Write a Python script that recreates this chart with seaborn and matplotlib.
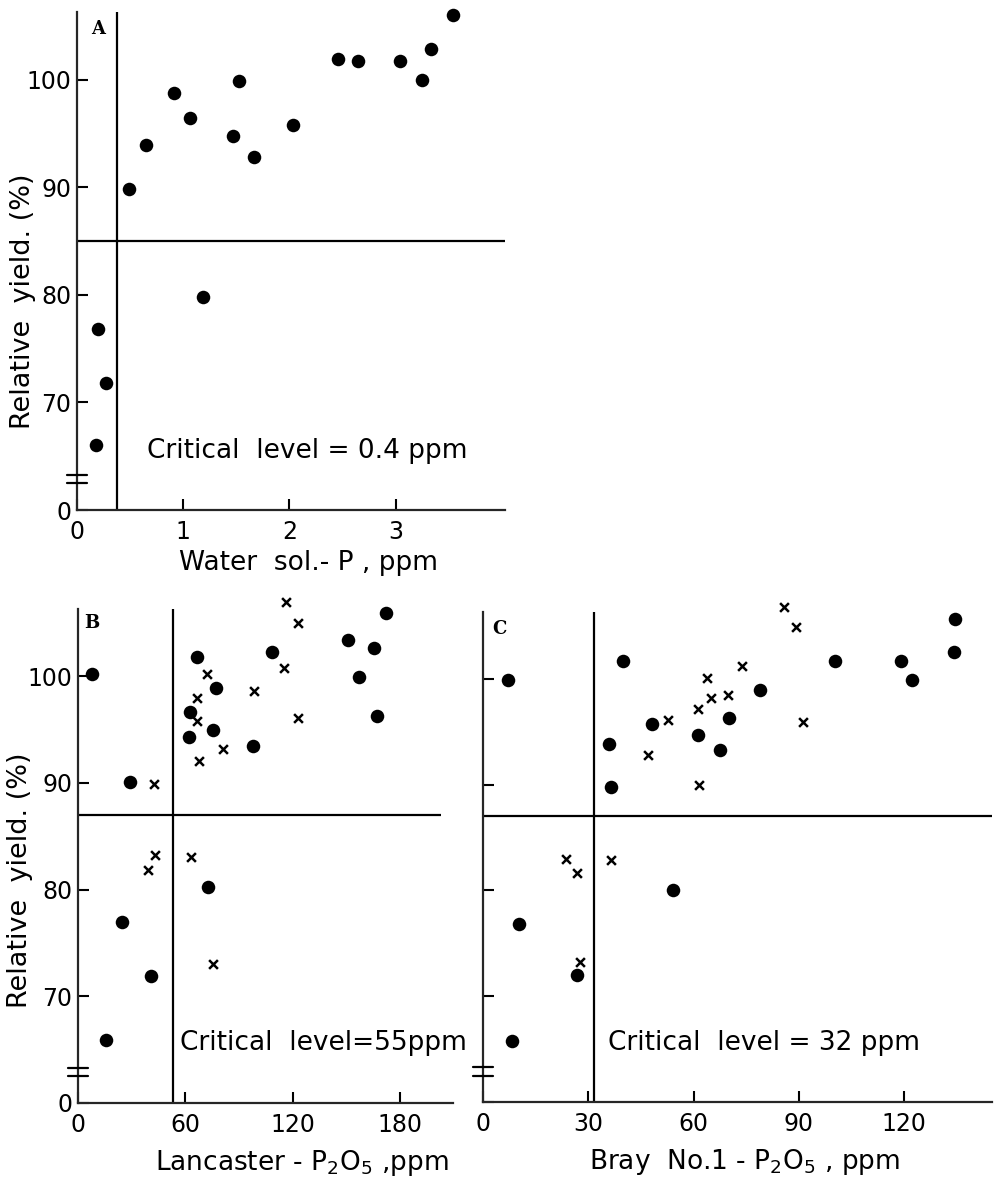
import matplotlib
matplotlib.use("Agg")
import matplotlib.pyplot as plt
import matplotlib.transforms as mtrans
import pandas as pd
import seaborn as sns

# ---------------- data ----------------
# Panel A: water soluble P (ppm) vs relative yield (%)
a_x = [0.49, 0.65, 0.91, 1.06, 1.47, 1.53, 1.67, 2.03, 2.46, 2.65, 3.04, 3.25, 3.33, 3.54,
       1.19, 0.20, 0.27, 0.18]
a_y = [89.8, 93.9, 98.8, 96.4, 94.8, 99.9, 92.8, 95.8, 101.9, 101.7, 101.7, 100.0, 102.9, 106.0,
       79.8, 76.8, 71.8, 66.0]

# Panel B: Lancaster P2O5 (ppm)
b_dot_x = [8.0, 29.1, 66.5, 77.1, 62.6, 75.3, 61.8, 97.9, 108.2, 151.0, 172.1, 165.4, 157.0, 167.0,
           72.5, 24.7, 40.8, 15.6]
b_dot_y = [100.2, 90.1, 101.8, 98.9, 96.6, 95.0, 94.3, 93.5, 102.3, 103.4, 105.9, 102.6, 99.9, 96.3,
           80.2, 77.0, 71.9, 65.9]
b_x_x = [116.0, 122.7, 71.9, 115.3, 66.6, 98.2, 66.6, 122.7, 81.2, 67.4, 42.5, 43.2, 39.3, 63.3, 75.6]
b_x_y = [107.0, 105.0, 100.2, 100.8, 98.0, 98.6, 95.8, 96.1, 93.2, 92.1, 89.9, 83.2, 81.8, 83.1, 73.0]

# Panel C: Bray No.1 P2O5 (ppm)
c_dot_x = [7.2, 39.9, 35.9, 36.5, 48.1, 61.3, 70.1, 67.5, 79.0, 100.4, 119.0, 122.2, 134.5, 134.2,
           54.1, 10.3, 26.9, 8.2]
c_dot_y = [99.9, 101.7, 93.8, 89.8, 95.7, 94.7, 96.3, 93.3, 98.9, 101.7, 101.7, 99.9, 105.6, 102.5,
           80.0, 76.8, 72.0, 65.8]
c_x_x = [85.8, 89.1, 73.9, 63.8, 65.0, 69.7, 61.3, 52.6, 91.3, 46.9, 61.5, 23.6, 26.7, 36.6, 27.6]
c_x_y = [106.8, 104.9, 101.2, 100.1, 98.2, 98.5, 97.1, 96.1, 95.9, 92.8, 90.0, 83.0, 81.6, 82.9, 73.2]

# critical levels (x) and yield thresholds (y)
crit_x = {"A": 0.38, "B": 53, "C": 31.5}
crit_y = {"A": 85, "B": 87, "C": 87}
crit_text = {"A": "Critical  level = 0.4 ppm", "B": "Critical  level=55ppm",
             "C": "Critical  level = 32 ppm"}

yticks = [60, 70, 80, 90, 100]
ytick_labels = ["0", "70", "80", "90", "100"]
xticks_A = [0, 1, 2, 3]
xticks_B = [0, 60, 120, 180]
xticks_C = [0, 30, 60, 90, 120]
xlabels = {"A": "Water  sol.- P , ppm",
           "B": "Lancaster - P$_2$O$_5$ ,ppm",
           "C": "Bray  No.1 - P$_2$O$_5$ , ppm"}
ylabel = "Relative  yield. (%)"

# ---------------- style ----------------
sns.set_style("ticks")
plt.rcParams["font.family"] = ["DejaVu Sans"]
plt.rcParams["mathtext.default"] = "regular"
plt.rcParams["axes.linewidth"] = 1.6
plt.rcParams["text.color"] = "black"
plt.rcParams["axes.labelcolor"] = "black"
plt.rcParams["xtick.color"] = "black"
plt.rcParams["ytick.color"] = "black"

W, H = 1005, 1180
fig = plt.figure(figsize=(W / 100, H / 100), dpi=100)


def add_axes(l, r, b, t):
    return fig.add_axes([l / W, 1 - b / H, (r - l) / W, (b - t) / H])


axA = add_axes(77, 505, 510, 12)
axB = add_axes(78, 453, 1103, 609)
axC = add_axes(483, 992, 1102, 612)

DOT_S = 95
X_S = 40

dfA = pd.DataFrame({"x": a_x, "y": a_y})
sns.scatterplot(data=dfA, x="x", y="y", ax=axA, color="black", marker="o", s=DOT_S,
                linewidth=0, zorder=3, clip_on=False)

dfB1 = pd.DataFrame({"x": b_dot_x, "y": b_dot_y})
dfB2 = pd.DataFrame({"x": b_x_x, "y": b_x_y})
sns.scatterplot(data=dfB1, x="x", y="y", ax=axB, color="black", marker="o", s=DOT_S,
                linewidth=0, zorder=3, clip_on=False)
sns.scatterplot(data=dfB2, x="x", y="y", ax=axB, color="black", marker="x", s=X_S,
                linewidth=1.8, zorder=3, clip_on=False)

dfC1 = pd.DataFrame({"x": c_dot_x, "y": c_dot_y})
dfC2 = pd.DataFrame({"x": c_x_x, "y": c_x_y})
sns.scatterplot(data=dfC1, x="x", y="y", ax=axC, color="black", marker="o", s=DOT_S,
                linewidth=0, zorder=3, clip_on=False)
sns.scatterplot(data=dfC2, x="x", y="y", ax=axC, color="black", marker="x", s=X_S,
                linewidth=1.8, zorder=3, clip_on=False)

settings = {
    "A": dict(ax=axA, xlim=(0, 4.03), xticks=xticks_A, hline_end=4.03,
              text_xy=(0.66, 65.5), panel_xy=(0.2, 104.7),
              xlabel_pos=(0.54, -0.106), ylabel_pos=(-0.125, 0.42), ylab=True),
    "B": dict(ax=axB, xlim=(0, 209.5), xticks=xticks_B, hline_end=203,
              text_xy=(57, 65.6), panel_xy=(7.6, 105.0),
              xlabel_pos=(0.597, -0.122), ylabel_pos=(-0.155, 0.45), ylab=True),
    "C": dict(ax=axC, xlim=(0, 145), xticks=xticks_C, hline_end=145,
              text_xy=(35.6, 65.6), panel_xy=(4.8, 104.7),
              xlabel_pos=(0.513, -0.122), ylabel_pos=None, ylab=False),
}

for key, st in settings.items():
    ax = st["ax"]
    ax.set_xlim(*st["xlim"])
    ax.set_ylim(60, 106.3)
    sns.despine(ax=ax)
    ax.set_xticks(st["xticks"])
    ax.set_xticklabels([str(t) for t in st["xticks"]])
    ax.set_yticks(yticks)
    if st["ylab"]:
        ax.set_yticklabels(ytick_labels)
    else:
        ax.set_yticklabels([])
    ax.tick_params(axis="both", direction="in", length=8, width=1.5, labelsize=17,
                   colors="black")
    ax.tick_params(axis="x", pad=7)
    ax.tick_params(axis="y", pad=4)

    # critical lines
    ax.axvline(crit_x[key], color="black", lw=1.6, zorder=2)
    ax.hlines(crit_y[key], 0, st["hline_end"], color="black", lw=1.6, zorder=2)

    # axis break marks
    tr = mtrans.blended_transform_factory(ax.transAxes, ax.transData)
    dx = 20 / (ax.get_position().width * W)
    for yb in (62.5, 63.3):
        ax.plot([-dx * 0.5, dx * 0.5], [yb, yb], color="black", lw=1.6, transform=tr,
                clip_on=False, zorder=4)

    ax.text(*st["text_xy"], crit_text[key], fontsize=19, ha="left", va="center")
    ax.text(*st["panel_xy"], key, fontsize=13, fontweight="bold", family="DejaVu Serif",
            ha="center", va="center")

    ax.set_xlabel(xlabels[key], fontsize=19, va="center")
    ax.xaxis.set_label_coords(*st["xlabel_pos"])
    if st["ylabel_pos"] is not None:
        ax.set_ylabel(ylabel, fontsize=19.5, va="center")
        ax.yaxis.set_label_coords(*st["ylabel_pos"])
    else:
        ax.set_ylabel("")

fig.savefig("out.png", dpi=100, facecolor="white")
